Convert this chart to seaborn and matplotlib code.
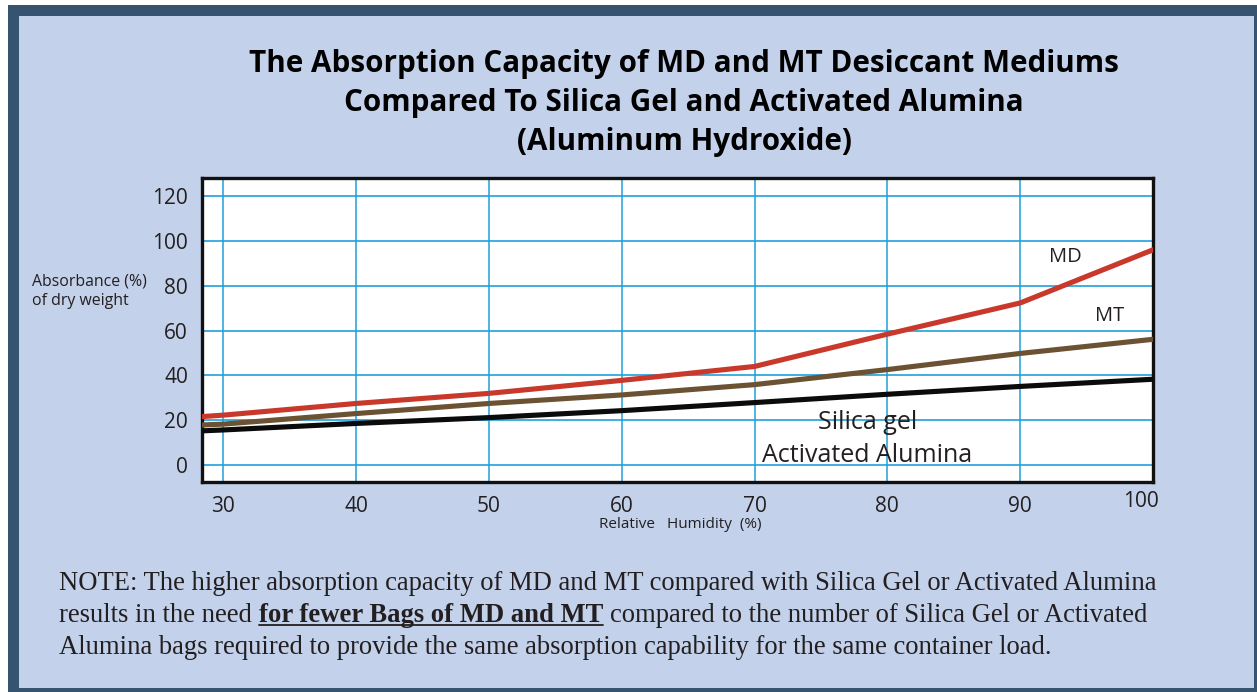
"""Absorption capacity of MD / MT desiccants vs silica gel."""

import matplotlib
matplotlib.use("Agg")
import matplotlib.pyplot as plt
import matplotlib.transforms as mtransforms
import numpy as np
import pandas as pd
import seaborn as sns
from matplotlib.lines import Line2D
from matplotlib.patches import Rectangle

# Data
HUMIDITY = [28, 30, 40, 50, 60, 70, 80, 90, 100]
MD = [21.5, 22.3, 27.5, 32.0, 37.8, 44.0, 58.4, 72.3, 96.0]
MT = [17.8, 18.3, 23.0, 27.5, 31.3, 35.9, 42.6, 49.8, 56.1]
SILICA = [15.2, 15.7, 18.6, 21.2, 24.3, 27.9, 31.6, 35.1, 38.3]

X_TICKS = [30, 40, 50, 60, 70, 80, 90, 100]
Y_TICKS = [0, 20, 40, 60, 80, 100, 120]

TITLE_LINES = [
    "The Absorption Capacity of MD and MT Desiccant Mediums",
    "Compared To Silica Gel and Activated Alumina",
    "(Aluminum Hydroxide)",
]

COLORS = {"MD": "#c9392b", "MT": "#6a5232", "Silica": "#0b0b0b"}
PANEL = "#c3d1ea"
BORDER = "#36536f"
GRID = "#1fa0da"
TEXT = "#231f20"

W, H = 1257, 692

df = pd.DataFrame({"humidity": HUMIDITY, "MD": MD, "MT": MT, "Silica": SILICA})
long_df = df.melt(id_vars="humidity", var_name="medium", value_name="absorbance")

sns.set_theme(style="white")
plt.rcParams["font.family"] = ["Open Sans", "DejaVu Sans"]

fig = plt.figure(figsize=(W / 100, H / 100), dpi=100, facecolor="white")

# Framed background panel
fig.patches.append(Rectangle((8 / W, 0), 1, 1 - 5 / H, transform=fig.transFigure,
                             facecolor=BORDER, edgecolor="none", zorder=-10))
fig.patches.append(Rectangle((19 / W, 4 / H), (1254 - 19) / W, (688 - 16) / H,
                             transform=fig.transFigure, facecolor=PANEL,
                             edgecolor="none", zorder=-9))

ax = fig.add_axes([202 / W, 1 - 482 / H, (1153 - 202) / W, (482 - 178) / H])
ax.set_facecolor("white")

# Grid
for xv in X_TICKS:
    ax.axvline(xv, color=GRID, lw=1.1, zorder=1)
for yv in Y_TICKS:
    ax.axhline(yv, color=GRID, lw=1.2, zorder=1)

# Draw order: silica first, then MT, then MD on top
sns.lineplot(data=long_df, x="humidity", y="absorbance", hue="medium",
             hue_order=["Silica", "MT", "MD"], palette=COLORS, lw=3.7,
             legend=False, ax=ax, zorder=3)

ax.set_xlim(28.4, 100)
ax.set_ylim(-7.5, 128)
ax.set_xticks(X_TICKS)
ax.set_yticks(Y_TICKS)
ax.tick_params(axis="both", direction="in", length=6, width=2, color="#111111",
               labelsize=15, labelcolor=TEXT)
ax.tick_params(axis="y", pad=10)
ax.tick_params(axis="x", pad=10)
for sp in ax.spines.values():
    sp.set_visible(True)
    sp.set_color("#111111")
    sp.set_linewidth(2.4)
ax.set_xlabel("")
ax.set_ylabel("")

# the "100" label sits a little up and to the left in the original
last = ax.get_xticklabels()[-1]
last.set_transform(last.get_transform() +
                   mtransforms.ScaledTranslation(-12 / 100, 5 / 100, fig.dpi_scale_trans))

# Line labels
ax.text(93.4, 92.7, "MD", fontsize=14.5, color=TEXT, ha="center", va="center")
ax.text(96.7, 66.4, "MT", fontsize=14.5, color=TEXT, ha="center", va="center")
ax.text(78.5, 19.0, "Silica gel", fontsize=18, color=TEXT, ha="center", va="center")
ax.text(78.5, 4.4, "Activated Alumina", fontsize=18, color=TEXT, ha="center", va="center")

# Axis titles
fig.text(32 / W, 1 - 291 / H, "Absorbance (%)\nof dry weight", fontsize=11.4,
         color=TEXT, ha="left", va="center", linespacing=1.3)
fig.text(680 / W, 1 - 524 / H, "Relative   Humidity  (%)", fontsize=11,
         color=TEXT, ha="center", va="center")

# Title
for i, line in enumerate(TITLE_LINES):
    fig.text(684 / W, 1 - (64 + 39 * i) / H, line, fontsize=21.3, fontweight="bold",
             color="black", ha="center", va="center")

# Note, with the bold underlined part
note_kw = dict(fontsize=19.2, color=TEXT, family=["Liberation Serif", "DejaVu Serif"])
fig.text(59 / W, 1 - 584 / H,
         "NOTE: The higher absorption capacity of MD and MT compared with "
         "Silica Gel or Activated Alumina", ha="left", va="center", **note_kw)
t1 = fig.text(59 / W, 1 - 616 / H, "results in the need", ha="left",
              va="center", **note_kw)
t2 = fig.text(0, 0, "for fewer Bags of MD and MT", fontweight="bold", **note_kw)
t3 = fig.text(0, 0, "compared to the number of Silica Gel or Activated", **note_kw)
fig.text(59 / W, 1 - 648 / H,
         "Alumina bags required to provide the same absorption capability "
         "for the same container load.", ha="left", va="center", **note_kw)

renderer = fig.canvas.get_renderer()
space = 7
b1 = t1.get_window_extent(renderer)
t2.set_position(((b1.x1 + space) / W, b1.y0 / H))
t2.set_va("bottom")
b2 = t2.get_window_extent(renderer)
t3.set_position(((b2.x1 + space) / W, b1.y0 / H))
t3.set_va("bottom")
uy = (b2.y0 + 4) / H
fig.add_artist(Line2D([b2.x0 / W, b2.x1 / W], [uy, uy], color=TEXT, lw=1.3,
                      transform=fig.transFigure))

fig.savefig("out.png", dpi=100, facecolor=fig.get_facecolor())
